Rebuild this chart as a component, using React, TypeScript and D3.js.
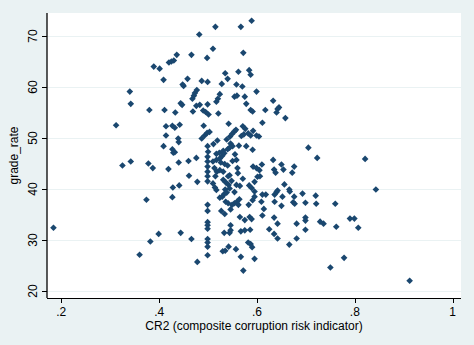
import React from "react";
import * as d3 from "d3";

const cr2: number[] = [
  0.184, 0.360, 0.382, 0.399, 0.374, 0.427, 0.325, 0.342, 0.378, 0.387,
  0.419, 0.440, 0.460, 0.476, 0.428, 0.312, 0.340, 0.342, 0.380, 0.389,
  0.401, 0.409, 0.411, 0.420, 0.425, 0.430, 0.436, 0.433, 0.444, 0.447,
  0.448, 0.450, 0.458, 0.466, 0.468, 0.471, 0.473, 0.477, 0.469, 0.476,
  0.483, 0.482, 0.487, 0.490, 0.498, 0.499, 0.499, 0.495, 0.501, 0.510,
  0.515, 0.517, 0.520, 0.524, 0.521, 0.528, 0.535, 0.540, 0.554, 0.559,
  0.558, 0.562, 0.567, 0.570, 0.572, 0.575, 0.578, 0.584, 0.587, 0.589,
  0.587, 0.591, 0.599, 0.617, 0.633, 0.645, 0.642, 0.640, 0.658, 0.414,
  0.427, 0.432, 0.442, 0.414, 0.409, 0.427, 0.429, 0.432, 0.439, 0.440,
  0.491, 0.487, 0.493, 0.498, 0.503, 0.499, 0.500, 0.511, 0.519, 0.542,
  0.538, 0.545, 0.549, 0.554, 0.557, 0.546, 0.563, 0.531, 0.540, 0.544,
  0.550, 0.517, 0.523, 0.555, 0.571, 0.576, 0.568, 0.573, 0.582, 0.587,
  0.592, 0.599, 0.604, 0.578, 0.591, 0.611, 0.499, 0.499, 0.499, 0.499,
  0.499, 0.499, 0.510, 0.517, 0.524, 0.529, 0.533, 0.513, 0.518, 0.515,
  0.526, 0.534, 0.540, 0.541, 0.550, 0.558, 0.560, 0.461, 0.478, 0.531,
  0.536, 0.542, 0.535, 0.571, 0.592, 0.599, 0.610, 0.605, 0.601, 0.595,
  0.606, 0.633, 0.650, 0.654, 0.635, 0.638, 0.676, 0.672, 0.656, 0.666,
  0.642, 0.640, 0.636, 0.584, 0.589, 0.595, 0.618, 0.611, 0.667, 0.652,
  0.676, 0.705, 0.723, 0.821, 0.843, 0.693, 0.699, 0.720, 0.721, 0.760,
  0.524, 0.529, 0.533, 0.538, 0.564, 0.536, 0.541, 0.549, 0.554, 0.559,
  0.562, 0.546, 0.527, 0.534, 0.499, 0.499, 0.583, 0.591, 0.595, 0.609,
  0.614, 0.611, 0.636, 0.650, 0.674, 0.677, 0.499, 0.499, 0.499, 0.499,
  0.499, 0.499, 0.499, 0.444, 0.466, 0.478, 0.565, 0.575, 0.585, 0.589,
  0.546, 0.533, 0.544, 0.546, 0.567, 0.575, 0.586, 0.582, 0.587, 0.590,
  0.542, 0.530, 0.535, 0.557, 0.567, 0.595, 0.572, 0.625, 0.635, 0.642,
  0.635, 0.642, 0.666, 0.681, 0.681, 0.699, 0.699, 0.699, 0.729, 0.736,
  0.762, 0.790, 0.799, 0.807, 0.778, 0.750, 0.912, 0.524, 0.531, 0.544,
  0.548, 0.544, 0.561, 0.558, 0.554, 0.565, 0.510, 0.514, 0.517, 0.441,
];

const gradeRate: number[] = [
  32.4, 27.1, 29.7, 31.2, 37.9, 38.4, 44.6, 45.4, 45.0, 44.1,
  43.9, 45.2, 45.5, 46.1, 40.3, 52.5, 59.1, 56.7, 55.5, 64.0,
  63.6, 61.4, 55.5, 64.8, 65.0, 65.2, 66.3, 55.0, 56.8, 56.5,
  60.5, 60.2, 61.6, 66.3, 57.7, 58.3, 58.8, 59.4, 55.2, 56.3,
  56.5, 70.3, 61.2, 55.4, 65.7, 61.0, 56.6, 55.1, 54.6, 67.5,
  71.8, 57.1, 57.7, 58.6, 54.8, 60.6, 62.7, 61.6, 58.1, 58.3,
  60.5, 63.0, 71.8, 60.1, 66.7, 58.1, 56.7, 63.3, 62.4, 73.0,
  55.5, 55.2, 59.1, 55.5, 57.3, 56.0, 55.7, 55.0, 53.9, 52.3,
  52.4, 52.0, 52.6, 50.5, 48.4, 47.8, 47.1, 47.2, 49.9, 49.2,
  52.4, 49.9, 50.5, 51.0, 51.2, 48.4, 47.3, 48.8, 49.5, 52.8,
  49.7, 50.3, 50.8, 51.3, 51.6, 48.9, 48.5, 47.5, 47.8, 48.1,
  48.4, 46.9, 47.1, 46.8, 52.3, 51.8, 50.4, 50.7, 50.9, 50.5,
  51.4, 50.5, 50.3, 48.4, 47.7, 53.0, 46.3, 45.4, 44.4, 43.4,
  42.5, 41.5, 45.4, 45.7, 46.0, 46.5, 47.0, 44.1, 43.4, 42.5,
  45.2, 44.9, 44.6, 42.5, 45.5, 45.7, 44.1, 42.6, 41.4, 41.8,
  41.3, 40.8, 39.9, 42.0, 44.4, 44.1, 44.8, 43.7, 42.4, 41.4,
  42.5, 45.7, 44.8, 43.8, 43.8, 43.2, 44.4, 43.2, 40.9, 39.9,
  39.7, 39.4, 38.9, 40.7, 40.2, 39.5, 38.9, 38.9, 39.5, 38.5,
  38.5, 48.1, 46.1, 45.9, 39.9, 39.1, 37.3, 38.7, 37.1, 37.1,
  38.3, 38.5, 39.0, 39.3, 38.0, 37.5, 37.2, 36.9, 37.2, 37.5,
  36.9, 36.0, 35.7, 35.1, 36.9, 35.7, 36.9, 37.8, 38.5, 37.5,
  36.1, 34.8, 37.5, 36.7, 37.4, 37.1, 33.5, 32.9, 32.2, 30.2,
  29.5, 28.7, 27.0, 31.4, 30.2, 25.7, 34.5, 33.9, 34.5, 34.1,
  32.9, 31.4, 31.4, 31.9, 31.7, 31.9, 32.0, 29.5, 29.2, 28.6,
  28.7, 27.8, 27.9, 28.2, 26.7, 26.3, 24.0, 32.1, 31.2, 30.3,
  34.4, 33.2, 29.1, 33.2, 30.3, 34.4, 33.8, 32.0, 33.6, 33.2,
  32.6, 34.2, 34.2, 32.4, 26.5, 24.6, 22.0, 43.7, 43.4, 42.7,
  41.6, 40.1, 43.1, 40.8, 39.4, 40.6, 41.1, 40.3, 39.8, 40.7,
];

const xTicks: number[] = [0.2, 0.4, 0.6, 0.8, 1];
const xTickLabels: string[] = [".2", ".4", ".6", ".8", "1"];
const yTicks: number[] = [20, 30, 40, 50, 60, 70];
const yTickLabels: string[] = ["20", "30", "40", "50", "60", "70"];
const xTitle = "CR2 (composite corruption risk indicator)";
const yTitle = "grade_rate";

const W = 474;
const H = 345;
const plot = { left: 47, right: 461, top: 13, bottom: 298 };

const BG = "#EAF2F3";
const NAVY = "#1A476F";
const FONT = "'Liberation Sans', Arial, Helvetica, sans-serif";

export default function App() {
  const x = d3.scaleLinear().domain([0.2, 1]).range([61.3, 452.7]);
  const y = d3.scaleLinear().domain([20, 70]).range([291, 36]);
  const diamond = d3.symbol().type(d3.symbolSquare).size(22)() as string;
  const points = cr2.map((v, i) => ({ x: v, y: gradeRate[i] }));

  return (
    <svg
      width={W}
      height={H}
      style={{ position: "absolute", left: 0, top: 0, display: "block" }}
      fontFamily={FONT}
    >
      <rect x={0} y={0} width={W} height={H} fill={BG} />
      <rect
        x={plot.left}
        y={plot.top}
        width={plot.right - plot.left}
        height={plot.bottom - plot.top}
        fill="#FFFFFF"
      />
      {yTicks.map((t) => (
        <line
          key={"g" + t}
          x1={plot.left}
          x2={plot.right}
          y1={Math.round(y(t)) + 0.5}
          y2={Math.round(y(t)) + 0.5}
          stroke={BG}
          strokeWidth={1.2}
        />
      ))}
      {points.map((p, i) => (
        <path
          key={i}
          d={diamond}
          fill={NAVY}
          transform={`translate(${x(p.x).toFixed(2)},${y(p.y).toFixed(2)}) rotate(45)`}
        />
      ))}
      {/* y axis */}
      <line x1={plot.left} x2={plot.left} y1={plot.top} y2={plot.bottom} stroke="#000" strokeWidth={1.3} />
      {yTicks.map((t, i) => (
        <g key={"yt" + t}>
          <line
            x1={plot.left - 5}
            x2={plot.left}
            y1={Math.round(y(t)) + 0.5}
            y2={Math.round(y(t)) + 0.5}
            stroke="#000"
            strokeWidth={1}
          />
          <text
            transform={`translate(37,${y(t)}) rotate(-90)`}
            textAnchor="middle"
            fontSize={12}
            fill="#000"
          >
            {yTickLabels[i]}
          </text>
        </g>
      ))}
      {/* x axis */}
      <line x1={plot.left} x2={plot.right} y1={plot.bottom + 0.5} y2={plot.bottom + 0.5} stroke="#000" strokeWidth={1.2} />
      {xTicks.map((t, i) => (
        <g key={"xt" + t}>
          <line
            x1={Math.round(x(t)) + 0.5}
            x2={Math.round(x(t)) + 0.5}
            y1={plot.bottom}
            y2={plot.bottom + 5}
            stroke="#000"
            strokeWidth={1}
          />
          <text x={x(t)} y={316} textAnchor="middle" fontSize={12} fill="#000">
            {xTickLabels[i]}
          </text>
        </g>
      ))}
      <text
        x={(plot.left + plot.right) / 2}
        y={330}
        textAnchor="middle"
        fontSize={12}
        fill="#000"
      >
        {xTitle}
      </text>
      <text
        transform={`translate(18,${(plot.top + plot.bottom) / 2}) rotate(-90)`}
        textAnchor="middle"
        fontSize={12}
        fill="#000"
      >
        {yTitle}
      </text>
    </svg>
  );
}
